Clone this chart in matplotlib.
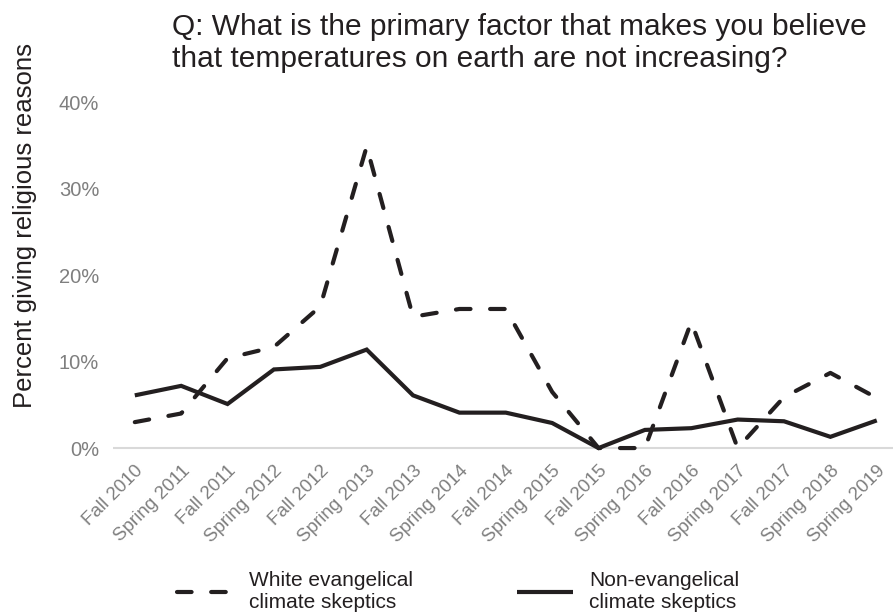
import numpy as np
import matplotlib
matplotlib.use("Agg")
import matplotlib.pyplot as plt

plt.rcParams['font.family'] = ['Liberation Sans', 'DejaVu Sans']

# survey waves
waves = ['Fall 2010', 'Spring 2011', 'Fall 2011', 'Spring 2012', 'Fall 2012',
         'Spring 2013', 'Fall 2013', 'Spring 2014', 'Fall 2014', 'Spring 2015',
         'Fall 2015', 'Spring 2016', 'Fall 2016', 'Spring 2017', 'Fall 2017',
         'Spring 2018', 'Spring 2019']

# percent giving religious reasons
white_evangelical = [3.0, 4.0, 10.4, 11.7, 16.4, 34.9, 15.2, 16.1, 16.1, 6.5,
                     0.0, 0.0, 14.6, 0.0, 5.9, 8.7, 5.8]
non_evangelical = [6.1, 7.2, 5.1, 9.1, 9.4, 11.4, 6.1, 4.1, 4.1, 2.9,
                   0.0, 2.1, 2.3, 3.3, 3.1, 1.3, 3.2]

yticks = [0, 10, 20, 30, 40]
ytick_labels = ['0%', '10%', '20%', '30%', '40%']

ink = '#231f20'
grey = '#7f7f7f'

fig = plt.figure(figsize=(8.93, 6.16), dpi=100)
ax = fig.add_axes([113/893, 0.2516, 780/893, 0.596])

x = np.arange(len(waves))
ax.plot(x, white_evangelical, color=ink, lw=3.0, linestyle=(0, (3.5, 4.7)),
        dash_capstyle='round', label='White evangelical\nclimate skeptics')
ax.plot(x, non_evangelical, color=ink, lw=3.0, solid_capstyle='butt',
        solid_joinstyle='miter', label='Non-evangelical\nclimate skeptics')

ax.axhline(0, color='#d9d9d9', lw=1.5, zorder=0)
ax.set_xlim(-0.47, 16.35)
ax.set_ylim(-1.5, 41)

ax.set_yticks(yticks)
ax.set_yticklabels(ytick_labels)
ax.set_xticks(x)
ax.set_xticklabels(waves, rotation=45, ha='right', rotation_mode='anchor')
ax.tick_params(axis='both', length=0, colors=grey)
ax.tick_params(axis='y', pad=10, labelsize=14.5)
ax.tick_params(axis='x', pad=1, labelsize=13.5)
for s in ax.spines.values():
    s.set_visible(False)

fig.text(25/893, 1 - 225/616, 'Percent giving religious reasons', fontsize=18.5,
         color=ink, rotation=90, ha='center', va='center')

fig.text(172/893, 1 - 13/616, 'Q: What is the primary factor that makes you believe\n'
         'that temperatures on earth are not increasing?',
         fontsize=21.5, color=ink, ha='left', va='top', linespacing=1.2)

leg = fig.legend(*ax.get_legend_handles_labels(), loc='center',
                 bbox_to_anchor=(458/893, 1 - 592/616), ncol=2, frameon=False,
                 fontsize=15, handlelength=2.7, handletextpad=0.75, columnspacing=5.0,
                 borderpad=0, borderaxespad=0)
for t in leg.get_texts():
    t.set_color(ink)

fig.savefig('out.png', dpi=100)
